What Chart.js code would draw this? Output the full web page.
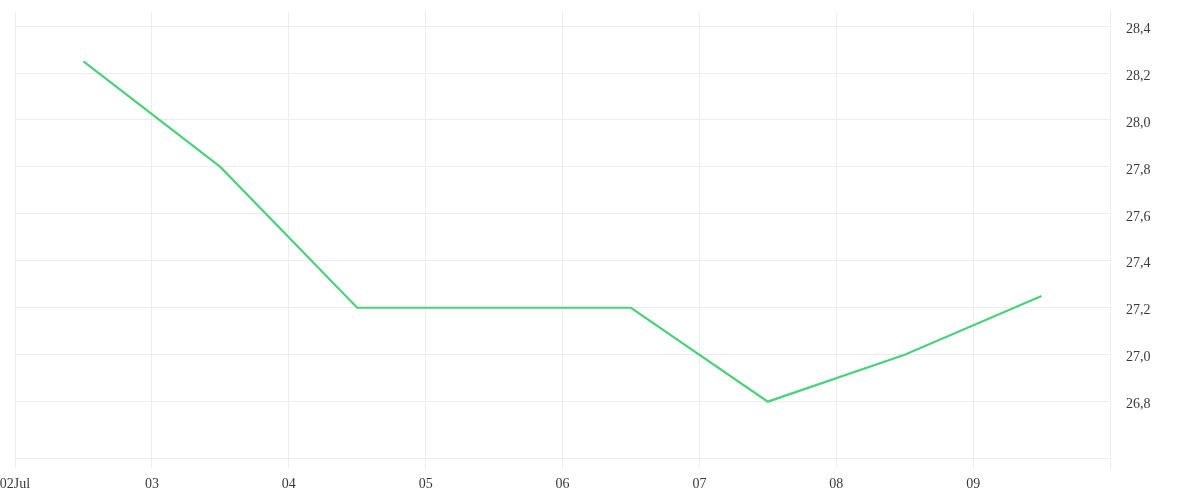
<!DOCTYPE html>
<html>
<head>
<meta charset="utf-8">
<script src="https://cdn.jsdelivr.net/npm/chart.js@4"></script>
<style>
html,body{margin:0;padding:0;background:#fff;}
#wrap{width:1200px;height:500px;}
</style>
</head>
<body>
<div id="wrap"><canvas id="c" width="1200" height="500"></canvas></div>
<script>
const dayLabels = ['02Jul','03','04','05','06','07','08','09'];
const values = [28.25, 27.8, 27.2, 27.2, 27.2, 26.8, 27.0, 27.25];
const yTicks = [26.8, 27.0, 27.2, 27.4, 27.6, 27.8, 28.0, 28.2, 28.4];

const points = values.map((v, i) => ({x: i + 0.5, y: v}));
const gridColor = '#ececec';
const textColor = '#3a3a3a';
const font = {family: '"Liberation Serif", "DejaVu Serif", serif', size: 14};

new Chart(document.getElementById('c'), {
  type: 'line',
  data: {
    datasets: [{
      data: points,
      borderColor: '#4cd17b',
      borderWidth: 2.2,
      pointRadius: 0,
      tension: 0,
      fill: false
    }]
  },
  options: {
    responsive: false,
    animation: false,
    layout: {padding: {top: 0, left: 0, right: 0, bottom: 0}},
    plugins: {legend: {display: false}, tooltip: {enabled: false}},
    scales: {
      x: {
        type: 'linear',
        min: 0,
        max: dayLabels.length,
        grid: {color: gridColor, drawTicks: true, tickLength: 10, tickColor: gridColor},
        border: {display: true, color: gridColor},
        ticks: {
          stepSize: 1,
          color: textColor,
          font: font,
          padding: 8,
          maxRotation: 0,
          autoSkip: false,
          callback: (v) => dayLabels[v] !== undefined ? dayLabels[v] : ''
        },
        afterFit: (s) => { s.height = 42; s.paddingLeft = 15; s.paddingRight = 0; }
      },
      y: {
        position: 'right',
        min: 26.56,
        max: 28.46,
        grid: {color: gridColor, drawTicks: false},
        border: {display: false},
        ticks: {
          color: textColor,
          font: font,
          padding: 16,
          labelOffset: 3,
          callback: (v) => v.toFixed(1).replace('.', ',')
        },
        afterBuildTicks: (s) => { s.ticks = yTicks.map(v => ({value: v})); },
        afterFit: (s) => { s.width = 90; s.paddingTop = 12; s.paddingBottom = 0; }
      }
    }
  }
});
</script>
</body>
</html>
